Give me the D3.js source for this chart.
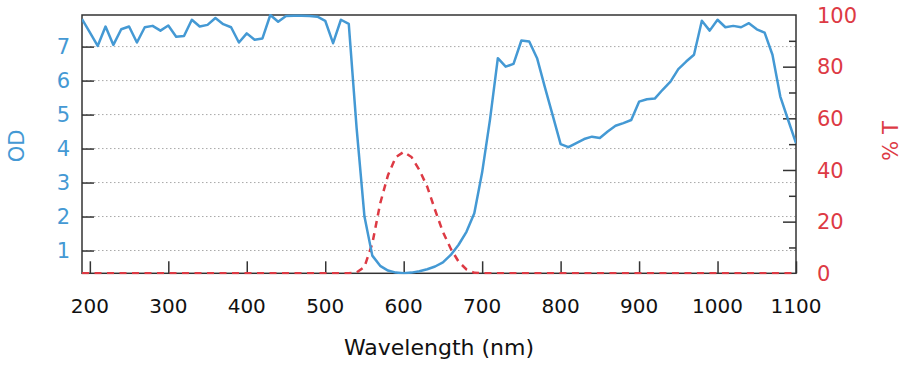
<!DOCTYPE html>
<html lang="en">
<head>
    <script src="https://d3js.org/d3.v7.min.js"></script>
    <meta charset="UTF-8">
    <title>OD and %T</title>
</head>
<style>
    body{
        margin: 0;
        background: #fff;
    }
    text{
        font-family: "DejaVu Sans", sans-serif;
    }
</style>
<body>
    <div id='grafico'></div>
</body>
<script>
    // wavelength (nm)
    var comprimento = [190, 200, 210, 220, 230, 240, 250, 260, 270, 280, 290, 300, 310, 320, 330, 340, 350, 360, 370, 380,
        390, 400, 410, 420, 430, 440, 450, 460, 470, 480, 490, 500, 510, 520, 530, 540, 550, 560, 570, 580,
        590, 600, 610, 620, 630, 640, 650, 660, 670, 680, 690, 700, 710, 720, 730, 740, 750, 760, 770, 780,
        790, 800, 810, 820, 830, 840, 850, 860, 870, 880, 890, 900, 910, 920, 930, 940, 950, 960, 970, 980,
        990, 1000, 1010, 1020, 1030, 1040, 1050, 1060, 1070, 1080, 1090, 1100]

    // optical density
    var od = [7.81, 7.42, 7.02, 7.59, 7.05, 7.51, 7.59, 7.12, 7.57, 7.61, 7.47, 7.62, 7.29, 7.31, 7.79, 7.59, 7.64, 7.84, 7.66, 7.57,
        7.12, 7.39, 7.20, 7.24, 7.93, 7.73, 7.90, 7.91, 7.91, 7.90, 7.88, 7.76, 7.10, 7.79, 7.67, 4.60, 2.00, 0.85, 0.55, 0.41,
        0.35, 0.335, 0.35, 0.39, 0.45, 0.53, 0.65, 0.87, 1.17, 1.55, 2.10, 3.30, 4.85, 6.66, 6.41, 6.49, 7.18, 7.15, 6.66, 5.80,
        4.97, 4.13, 4.04, 4.16, 4.28, 4.35, 4.31, 4.50, 4.67, 4.75, 4.84, 5.38, 5.45, 5.47, 5.73, 5.97, 6.34, 6.56, 6.76, 7.76,
        7.47, 7.79, 7.57, 7.61, 7.57, 7.69, 7.51, 7.41, 6.76, 5.53, 4.84, 4.16]

    // transmission (%)
    var transmissao = [0, 0, 0, 0, 0, 0, 0, 0, 0, 0, 0, 0, 0, 0, 0, 0, 0, 0, 0, 0,
        0, 0, 0, 0, 0, 0, 0, 0, 0, 0, 0, 0, 0, 0, 0, 0.3, 2.5, 11.5, 27, 38,
        45, 47, 45, 40, 33.5, 24.5, 16, 9.5, 4.5, 1.5, 0.2, 0, 0, 0, 0, 0, 0, 0, 0, 0,
        0, 0, 0, 0, 0, 0, 0, 0, 0, 0, 0, 0, 0, 0, 0, 0, 0, 0, 0, 0,
        0, 0, 0, 0, 0, 0, 0, 0, 0, 0, 0, 0]

    var xTicks = [200, 300, 400, 500, 600, 700, 800, 900, 1000, 1100]
    var odTicks = [1, 2, 3, 4, 5, 6, 7]
    var tTicks = [0, 20, 40, 60, 80, 100]
    var tMinor = [10, 30, 50, 70, 90]

    var azul = '#4499d4', vermelho = '#dd3a44'
    var esq = 82, dir = 796, topo = 15, base = 273.3

    var svg = d3.select('#grafico')
    .append('svg')
    .attr('width', 912)
    .attr('height', 370)

    var xScale = d3.scaleLinear()
    .domain([190, 1100])
    .range([esq, dir])

    var yOD = d3.scaleLinear()
    .domain([0.33, 7.93])
    .range([base, topo])

    var yT = d3.scaleLinear()
    .domain([0, 100])
    .range([base, topo])

    svg.append('defs').append('clipPath')
    .attr('id', 'area')
    .append('rect')
    .attr('x', esq)
    .attr('y', topo - 1)
    .attr('width', dir - esq)
    .attr('height', base - topo + 2)

    // dotted grid on OD ticks
    svg.selectAll('.grade')
    .data(odTicks)
    .enter()
    .append('line')
    .attr('class', 'grade')
    .attr('x1', esq)
    .attr('x2', dir)
    .attr('y1', d => yOD(d))
    .attr('y2', d => yOD(d))
    .attr('stroke', '#a8a8a8')
    .attr('stroke-width', 1)
    .attr('stroke-dasharray', '1.5,2.5')

    // left axis (OD)
    var eixoOD = svg.append('g')
    .attr('transform', `translate(${esq},0)`)
    .call(d3.axisRight(yOD).tickValues(odTicks).tickSize(12).tickFormat(''))
    eixoOD.select('.domain').remove()
    eixoOD.selectAll('line').attr('stroke', '#333').attr('stroke-width', 1.5)

    svg.selectAll('.rotOD')
    .data(odTicks)
    .enter()
    .append('text')
    .attr('class', 'rotOD')
    .attr('x', 70)
    .attr('y', d => yOD(d))
    .attr('dy', '0.36em')
    .attr('text-anchor', 'end')
    .attr('fill', azul)
    .style('font-size', '21px')
    .text(d => d)

    // right axis (%T)
    var eixoT = svg.append('g')
    .attr('transform', `translate(${dir},0)`)
    .call(d3.axisLeft(yT).tickValues([20, 40, 60, 80]).tickSize(13).tickFormat(''))
    eixoT.select('.domain').remove()
    eixoT.selectAll('line').attr('stroke', '#333').attr('stroke-width', 1.5)

    var eixoTmenor = svg.append('g')
    .attr('transform', `translate(${dir},0)`)
    .call(d3.axisLeft(yT).tickValues(tMinor).tickSize(7).tickFormat(''))
    eixoTmenor.select('.domain').remove()
    eixoTmenor.selectAll('line').attr('stroke', '#333').attr('stroke-width', 1.5)

    svg.selectAll('.rotT')
    .data(tTicks)
    .enter()
    .append('text')
    .attr('class', 'rotT')
    .attr('x', 817)
    .attr('y', d => yT(d))
    .attr('dy', '0.36em')
    .attr('fill', vermelho)
    .style('font-size', '21px')
    .text(d => d)

    // bottom axis
    var eixoX = svg.append('g')
    .attr('transform', `translate(0,${base})`)
    .call(d3.axisTop(xScale).tickValues(xTicks).tickSize(12).tickFormat(''))
    eixoX.select('.domain').remove()
    eixoX.selectAll('line').attr('stroke', '#333').attr('stroke-width', 1.5)

    svg.selectAll('.rotX')
    .data(xTicks)
    .enter()
    .append('text')
    .attr('class', 'rotX')
    .attr('x', d => xScale(d))
    .attr('y', 313)
    .attr('text-anchor', 'middle')
    .attr('fill', '#111')
    .style('font-size', '20px')
    .text(d => d)

    // frame
    svg.append('rect')
    .attr('x', esq)
    .attr('y', topo)
    .attr('width', dir - esq)
    .attr('height', base - topo)
    .attr('fill', 'none')
    .attr('stroke', '#333')
    .attr('stroke-width', 1.5)

    var dados = comprimento.map((c, i) => ({c: c, od: od[i], t: transmissao[i]}))

    svg.append('path')
    .datum(dados)
    .attr('clip-path', 'url(#area)')
    .attr('fill', 'none')
    .attr('stroke', vermelho)
    .attr('stroke-width', 2.5)
    .attr('stroke-dasharray', '7,5.5')
    .attr('d', d3.line().x(d => xScale(d.c)).y(d => yT(d.t)))

    svg.append('path')
    .datum(dados)
    .attr('clip-path', 'url(#area)')
    .attr('fill', 'none')
    .attr('stroke', azul)
    .attr('stroke-width', 2.5)
    .attr('stroke-linejoin', 'round')
    .attr('d', d3.line().x(d => xScale(d.c)).y(d => yOD(d.od)))

    // axis titles
    svg.append('text')
    .attr('transform', 'translate(24,146) rotate(-90)')
    .attr('text-anchor', 'middle')
    .attr('fill', azul)
    .style('font-size', '21px')
    .text('OD')

    svg.append('text')
    .attr('transform', 'translate(898,141) rotate(-90)')
    .attr('text-anchor', 'middle')
    .attr('fill', vermelho)
    .style('font-size', '21px')
    .text('% T')

    svg.append('text')
    .attr('x', 439)
    .attr('y', 355)
    .attr('text-anchor', 'middle')
    .attr('fill', '#111')
    .style('font-size', '22px')
    .text('Wavelength (nm)')
</script>
</html>
